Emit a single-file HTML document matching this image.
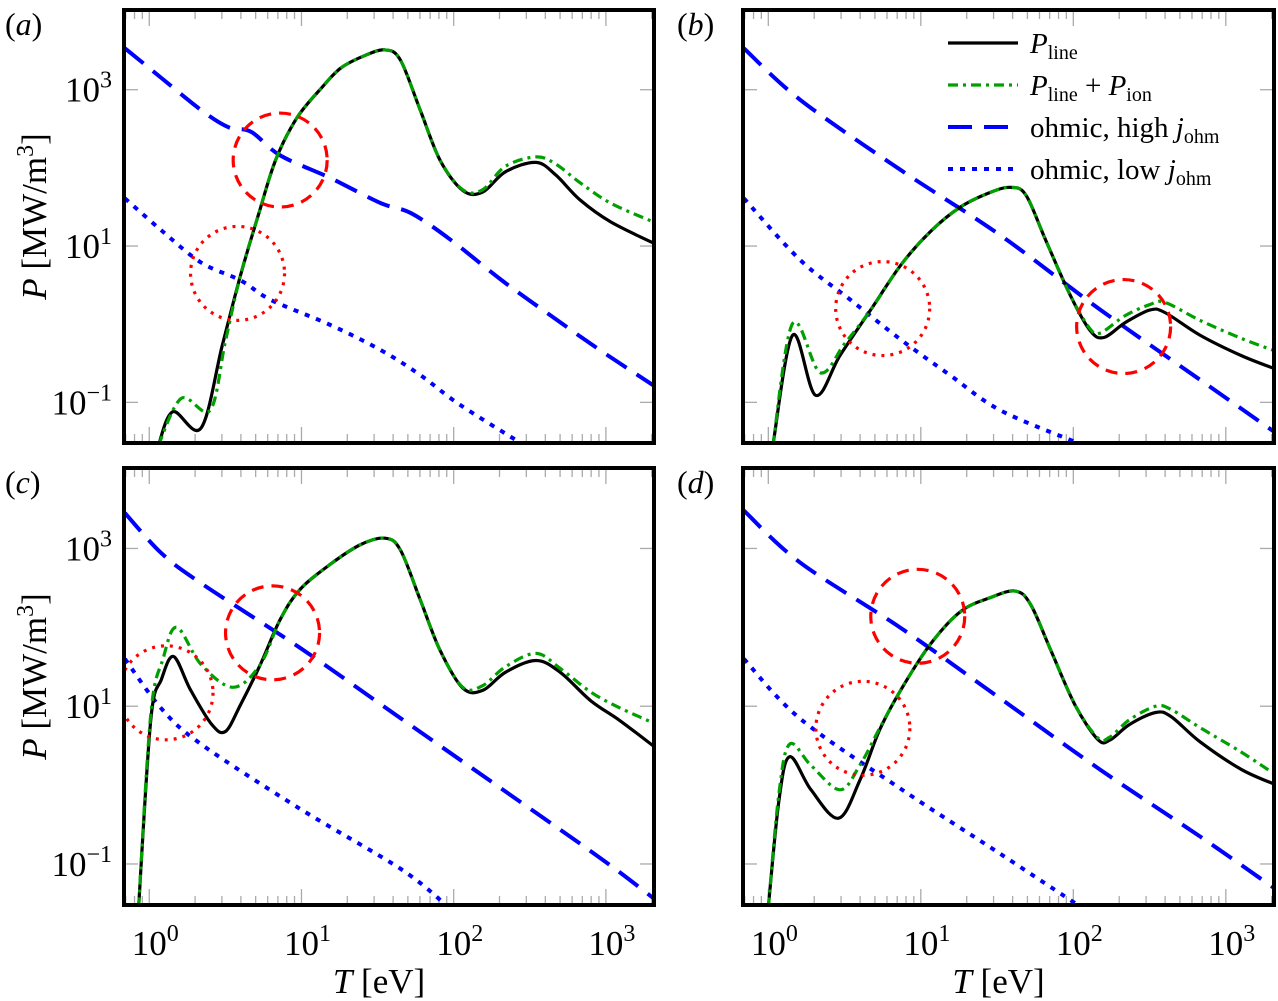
<!DOCTYPE html>
<html><head><meta charset="utf-8"><style>
html,body{margin:0;padding:0;background:#fff;}
svg{display:block;}
text{font-family:"Liberation Serif","DejaVu Serif",serif;fill:#000;}
</style></head><body>
<svg id="fig" width="1278" height="1001" viewBox="0 0 1278 1001" xmlns="http://www.w3.org/2000/svg"></svg>
<script>
// ---- data (log10 T [eV], log10 P [MW/m^3]) ----
const aLineT=[0.06,0.155,0.34,0.48,0.60,0.72,0.83,0.97,1.13,1.26,1.42,1.55,1.65,1.78,1.91,2.06,2.19,2.34,2.54,2.67,2.83,3.03,3.31];
const aLineP=[-1.55,-1.12,-1.33,-0.27,0.63,1.42,2.10,2.64,3.02,3.28,3.44,3.51,3.38,2.74,2.10,1.71,1.69,1.95,2.07,1.91,1.59,1.31,1.04];
const aIonT=[0.06,0.21,0.40,0.50,0.60,0.72,0.83,0.97,1.13,1.26,1.42,1.55,1.65,1.78,1.91,2.06,2.19,2.34,2.54,2.67,2.83,3.03,3.31];
const aIonP=[-1.55,-0.95,-1.10,-0.22,0.63,1.42,2.10,2.64,3.02,3.28,3.44,3.51,3.38,2.74,2.10,1.72,1.72,2.02,2.14,2.05,1.81,1.55,1.31];
const aHighT=[-0.16,0.08,0.34,0.52,0.67,0.86,1.19,1.52,1.72,1.98,2.31,2.63,2.96,3.31];
const aHighP=[3.53,3.15,2.74,2.52,2.46,2.16,1.87,1.55,1.42,1.08,0.57,0.12,-0.33,-0.78];
const aLowT=[-0.16,0.08,0.34,0.60,0.80,1.19,1.52,1.78,2.04,2.44];
const aLowP=[1.61,1.20,0.79,0.56,0.31,-0.01,-0.33,-0.65,-1.03,-1.52];
const aCircT=[0.86,0.58];
const aCircP=[2.10,0.65];

const bLineT=[0.03,0.16,0.31,0.47,0.67,0.87,1.06,1.26,1.46,1.59,1.69,1.82,1.98,2.11,2.20,2.34,2.50,2.60,2.83,3.10,3.32];
const bLineP=[-1.55,-0.14,-0.91,-0.40,0.18,0.76,1.18,1.50,1.69,1.75,1.65,1.07,0.37,-0.08,-0.17,0.02,0.18,0.15,-0.14,-0.40,-0.57];
const bIonT=[0.03,0.16,0.34,0.50,0.67,0.87,1.06,1.26,1.46,1.59,1.69,1.82,1.98,2.11,2.18,2.34,2.50,2.60,2.83,3.10,3.32];
const bIonP=[-1.55,0.01,-0.62,-0.25,0.18,0.76,1.18,1.50,1.69,1.75,1.65,1.07,0.37,-0.06,-0.11,0.11,0.25,0.28,0.05,-0.18,-0.34];
const bHighT=[-0.16,0.21,0.87,1.52,2.18,2.83,3.32];
const bHighP=[3.53,2.87,1.97,1.14,0.18,-0.71,-1.38];
const bLowT=[-0.16,0.21,0.54,0.87,1.19,1.52,2.03];
const bLowP=[1.61,0.82,0.31,-0.20,-0.65,-1.10,-1.52];
const bCircT=[2.33,0.75];
const bCircP=[-0.03,0.20];

const cLineT=[-0.07,0.01,0.08,0.16,0.27,0.41,0.50,0.60,0.73,0.86,0.99,1.19,1.39,1.55,1.65,1.78,1.91,2.06,2.19,2.34,2.54,2.70,2.90,3.09,3.31];
const cLineP=[-1.55,0.83,1.34,1.63,1.21,0.77,0.68,1.02,1.53,2.10,2.48,2.80,3.05,3.13,2.98,2.35,1.71,1.23,1.20,1.43,1.58,1.43,1.07,0.82,0.50];
const cIonT=[-0.07,0.01,0.09,0.18,0.34,0.55,0.73,0.86,0.99,1.19,1.39,1.55,1.65,1.78,1.91,2.06,2.19,2.34,2.54,2.70,2.90,3.09,3.31];
const cIonP=[-1.55,0.90,1.60,2.00,1.53,1.24,1.53,2.10,2.48,2.80,3.05,3.13,2.98,2.35,1.71,1.24,1.26,1.50,1.67,1.48,1.18,0.98,0.79];
const cHighT=[-0.16,0.08,0.34,0.99,1.65,2.31,2.96,3.31];
const cHighP=[3.45,2.94,2.56,1.74,0.85,-0.04,-0.92,-1.43];
const cLowT=[-0.16,0.08,0.34,0.99,1.65,1.95];
const cLowP=[1.60,0.97,0.52,-0.30,-1.06,-1.52];
const cCircT=[0.81,0.11];
const cCircP=[1.93,1.17];

const dLineT=[0.00,0.07,0.14,0.28,0.46,0.60,0.73,0.87,1.06,1.26,1.46,1.62,1.72,1.85,2.01,2.16,2.24,2.37,2.54,2.64,2.83,3.10,3.32];
const dLineP=[-1.55,-0.19,0.36,-0.06,-0.42,0.06,0.70,1.21,1.78,2.20,2.38,2.46,2.29,1.72,1.02,0.58,0.57,0.77,0.92,0.87,0.55,0.20,0.01];
const dIonT=[0.00,0.07,0.14,0.28,0.47,0.60,0.73,0.87,1.06,1.26,1.46,1.62,1.72,1.85,2.01,2.16,2.24,2.37,2.54,2.64,2.83,3.10,3.32];
const dIonP=[-1.55,-0.10,0.52,0.25,-0.06,0.25,0.72,1.21,1.78,2.20,2.38,2.46,2.29,1.72,1.02,0.60,0.61,0.83,1.00,0.96,0.73,0.42,0.14];
const dHighT=[-0.16,0.21,0.87,1.52,2.18,2.83,3.32];
const dHighP=[3.48,2.82,1.99,1.10,0.19,-0.65,-1.31];
const dLowT=[-0.16,0.21,0.87,1.52,2.03];
const dLowP=[1.60,0.84,-0.05,-0.87,-1.52];
const dCircT=[0.98,0.62];
const dCircP=[2.14,0.72];

const xTickExps=[0,1,2,3];
const yTickExps=[-1,1,3];

const NS='http://www.w3.org/2000/svg';
const svg=document.getElementById('fig');
function mk(tag,attrs,parent){const e=document.createElementNS(NS,tag);for(const k in attrs)e.setAttribute(k,attrs[k]);(parent||svg).appendChild(e);return e;}

const panels=[
 {id:'a',lx:5,x0:124,x1:654,y0:10,y1:443,lt:aLineT,lp:aLineP,it:aIonT,ip:aIonP,ht:aHighT,hp:aHighP,wt:aLowT,wp:aLowP,ct:aCircT,cp:aCircP,xlab:false,ylab:true},
 {id:'b',lx:677,x0:743,x1:1274,y0:10,y1:443,lt:bLineT,lp:bLineP,it:bIonT,ip:bIonP,ht:bHighT,hp:bHighP,wt:bLowT,wp:bLowP,ct:bCircT,cp:bCircP,xlab:false,ylab:false},
 {id:'c',lx:5,x0:124,x1:654,y0:468,y1:905,lt:cLineT,lp:cLineP,it:cIonT,ip:cIonP,ht:cHighT,hp:cHighP,wt:cLowT,wp:cLowP,ct:cCircT,cp:cCircP,xlab:true,ylab:true},
 {id:'d',lx:677,x0:743,x1:1274,y0:468,y1:905,lt:dLineT,lp:dLineP,it:dIonT,ip:dIonP,ht:dHighT,hp:dHighP,wt:dLowT,wp:dLowP,ct:dCircT,cp:dCircP,xlab:true,ylab:false}
];
const XMIN=-0.166,XMAX=3.316,YMIN=-1.52,YMAX=4.02;

function smoothPath(pts){
  let d='M'+pts[0][0].toFixed(1)+','+pts[0][1].toFixed(1);
  for(let i=0;i<pts.length-1;i++){
    const p0=pts[i-1]||pts[i],p1=pts[i],p2=pts[i+1],p3=pts[i+2]||pts[i+1];
    const c1=[p1[0]+(p2[0]-p0[0])/6,p1[1]+(p2[1]-p0[1])/6];
    const c2=[p2[0]-(p3[0]-p1[0])/6,p2[1]-(p3[1]-p1[1])/6];
    d+=' C'+c1[0].toFixed(1)+','+c1[1].toFixed(1)+' '+c2[0].toFixed(1)+','+c2[1].toFixed(1)+' '+p2[0].toFixed(1)+','+p2[1].toFixed(1);
  }
  return d;
}

panels.forEach(p=>{
  const sx=v=>p.x0+(v-XMIN)/(XMAX-XMIN)*(p.x1-p.x0);
  const sy=v=>p.y1-(v-YMIN)/(YMAX-YMIN)*(p.y1-p.y0);
  const g=mk('g',{});
  
  
  const cp=mk('clipPath',{id:'clip'+p.id},g);
  mk('rect',{x:p.x0,y:p.y0,width:p.x1-p.x0,height:p.y1-p.y0},cp);
  for(let e=-1;e<=3;e++){
    for(let m=1;m<=9;m++){
      const v=e+Math.log10(m); if(v<XMIN||v>XMAX) continue;
      const x=sx(v), L=m===1?16:9;
      const t1=mk('line',{x1:x,x2:x,y1:p.y1,y2:p.y1-L,stroke:'#aaa','stroke-width':1.3},g);
       
      const t2=mk('line',{x1:x,x2:x,y1:p.y0,y2:p.y0+L,stroke:'#aaa','stroke-width':1.3},g);
       
    }
  }
  yTickExps.forEach(e=>{
    const y=sy(e);
    const t1=mk('line',{x1:p.x0,x2:p.x0+14,y1:y,y2:y,stroke:'#aaa','stroke-width':1.3},g);
     
    const t2=mk('line',{x1:p.x1,x2:p.x1-14,y1:y,y2:y,stroke:'#aaa','stroke-width':1.3},g);
     
    if(p.ylab){
      const t=mk('text',{x:p.x0-12,y:y+12,'font-size':35,'text-anchor':'end'},g);
       
      t.innerHTML='10<tspan dy="-14" font-size="24">'+(e<0?'\u2212'+(-e):e)+'</tspan>';
    }
  });
  if(p.xlab){
    xTickExps.forEach(e=>{
      const t=mk('text',{x:sx(e)+6,y:p.y1+50,'font-size':35,'text-anchor':'middle'},g);
       
      t.innerHTML='10<tspan dy="-14" font-size="24">'+e+'</tspan>';
    });
    const xl=mk('text',{x:(p.x0+p.x1)/2-10,y:p.y1+88,'font-size':35,'text-anchor':'middle'},g);
     
    xl.innerHTML='<tspan font-style="italic">T</tspan> [eV]';
  }
  if(p.ylab){
    const cy=(p.y0+p.y1)/2-10;
    const yl=mk('text',{x:0,y:0,'font-size':35,'text-anchor':'middle',transform:'translate(46,'+cy+') rotate(-90)'},g);
     
    yl.innerHTML='<tspan font-style="italic">P</tspan> [MW/m<tspan dy="-13" font-size="24">3</tspan><tspan dy="13">]</tspan>';
  }
  const pl=mk('text',{x:p.lx,y:p.y0+25,'font-size':32},g);
   
  pl.innerHTML='(<tspan font-style="italic">'+p.id+'</tspan>)';
  const cg=mk('g',{'clip-path':'url(#clip'+p.id+')',fill:'none'},g);
  function series(T,P,attrs,name){
    const pts=T.map((t,i)=>[sx(t),sy(P[i])]);
    const el=mk('path',Object.assign({d:smoothPath(pts),fill:'none'},attrs),cg);
    
    
  }
  series(p.wt,p.wp,{stroke:'#0000ff','stroke-width':4,'stroke-dasharray':'5 7'},'ohmic-low-line');
  series(p.ht,p.hp,{stroke:'#0000ff','stroke-width':4,'stroke-dasharray':'24 12'},'ohmic-high-line');
  series(p.lt,p.lp,{stroke:'#000','stroke-width':3.2},'p-line-curve');
  series(p.it,p.ip,{stroke:'#00a000','stroke-width':3.2,'stroke-dasharray':'10 5 3 5'},'p-line-ion-curve');
  const c1=mk('circle',{cx:sx(p.ct[0]),cy:sy(p.cp[0]),r:47,stroke:'#ff0000','stroke-width':3.2,'stroke-dasharray':'12 8',fill:'none'},cg);
   
  const c2=mk('circle',{cx:sx(p.ct[1]),cy:sy(p.cp[1]),r:47,stroke:'#ff0000','stroke-width':3.2,'stroke-dasharray':'3 6',fill:'none'},cg);
   
  const fr=mk('rect',{x:p.x0,y:p.y0,width:p.x1-p.x0,height:p.y1-p.y0,fill:'none',stroke:'#000','stroke-width':4},g);
   
  if(p.id==='b'){
    const lg=mk('g',{'clip-path':'url(#clipb)'},g);
     
    const items=[
      {y:43,a:{stroke:'#000','stroke-width':3.2},h:'<tspan font-style="italic">P</tspan><tspan font-size="20" dy="6">line</tspan>',n:'legend-entry-p-line'},
      {y:85,a:{stroke:'#00a000','stroke-width':3.2,'stroke-dasharray':'10 5 3 5'},h:'<tspan font-style="italic">P</tspan><tspan font-size="20" dy="6">line</tspan><tspan dy="-6"> + </tspan><tspan font-style="italic">P</tspan><tspan font-size="20" dy="6">ion</tspan>',n:'legend-entry-p-line-ion'},
      {y:127,a:{stroke:'#0000ff','stroke-width':4,'stroke-dasharray':'24 12'},h:'ohmic, high <tspan font-style="italic">j</tspan><tspan font-size="20" dy="6">ohm</tspan>',n:'legend-entry-ohmic-high'},
      {y:169,a:{stroke:'#0000ff','stroke-width':4,'stroke-dasharray':'5 7'},h:'ohmic, low <tspan font-style="italic">j</tspan><tspan font-size="20" dy="6">ohm</tspan>',n:'legend-entry-ohmic-low'}
    ];
    items.forEach(it=>{
      const l=mk('line',Object.assign({x1:948,x2:1018,y1:it.y,y2:it.y},it.a),lg);
       
      const t=mk('text',{x:1030,y:it.y+10,'font-size':29},lg);
       
      t.innerHTML=it.h;
    });
  }
});
</script>
</body></html>
